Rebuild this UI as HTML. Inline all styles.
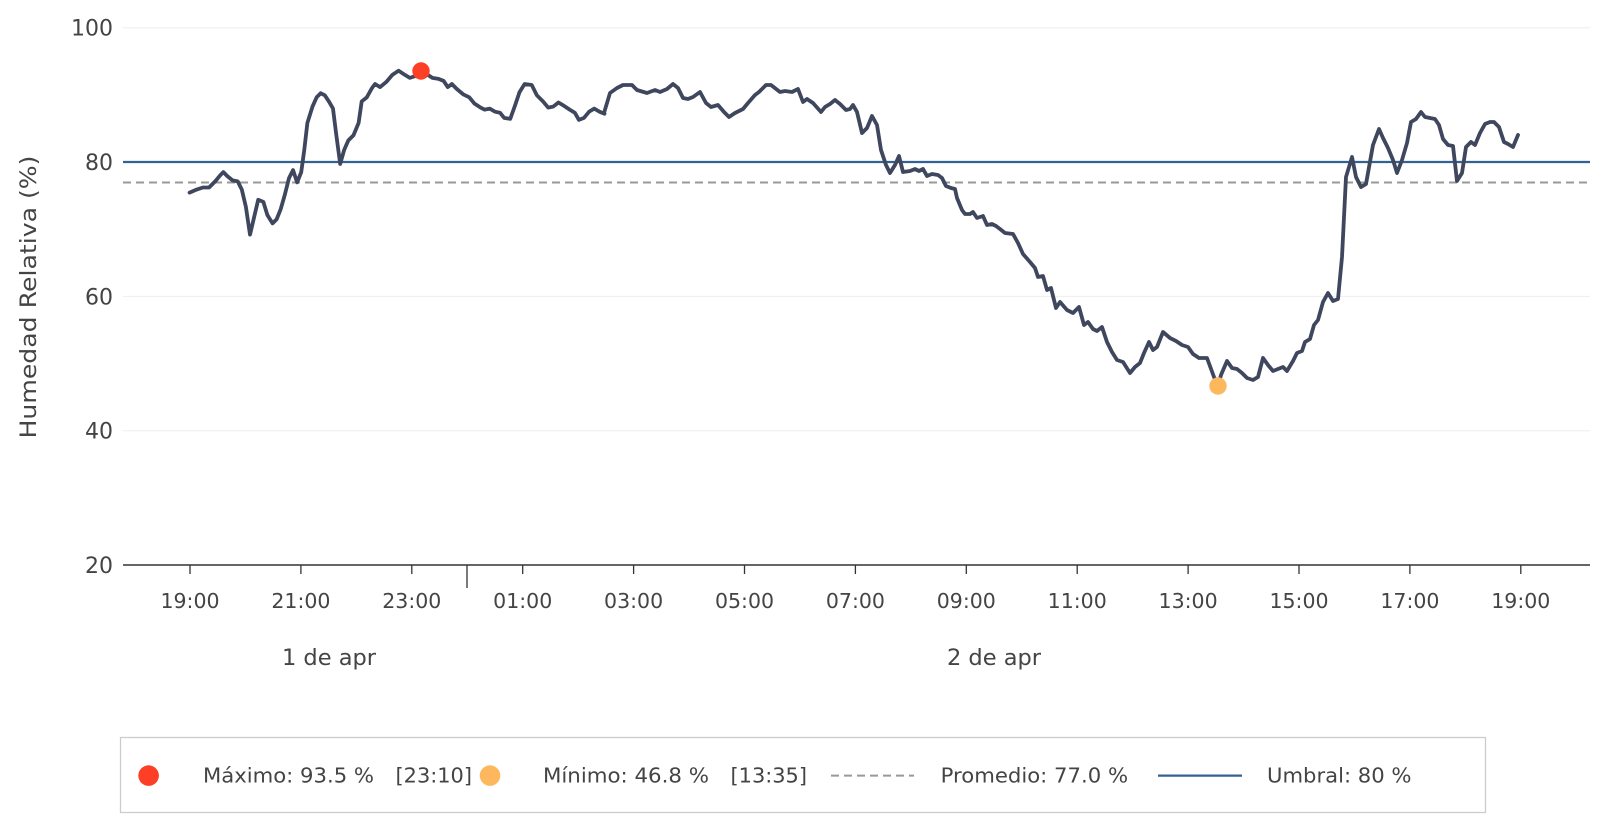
<!DOCTYPE html>
<html><head><meta charset="utf-8"><style>
body{margin:0;background:#fff;width:1601px;height:828px;overflow:hidden}
svg text{font-family:"DejaVu Sans","Liberation Sans",sans-serif;fill:#444}
</style></head><body>
<svg width="1601" height="828" viewBox="0 0 1601 828" xmlns="http://www.w3.org/2000/svg">
<g stroke="#eeeeee" stroke-width="1">
<line x1="123" y1="27.7" x2="1590" y2="27.7"/>
<line x1="123" y1="296.4" x2="1590" y2="296.4"/>
<line x1="123" y1="430.7" x2="1590" y2="430.7"/>
</g>
<g font-size="22" text-anchor="end">
<text x="113" y="35.7">100</text>
<text x="113" y="170">80</text>
<text x="113" y="304.4">60</text>
<text x="113" y="438.7">40</text>
<text x="113" y="573">20</text>
</g>
<text transform="translate(36,297) rotate(-90)" font-size="22" text-anchor="middle" textLength="283" lengthAdjust="spacingAndGlyphs">Humedad Relativa (%)</text>
<line x1="123" y1="565" x2="1590" y2="565" stroke="#333" stroke-width="1.4"/>
<g stroke="#333" stroke-width="1.3">
<line x1="190" y1="565" x2="190" y2="574"/><line x1="300.9" y1="565" x2="300.9" y2="574"/>
<line x1="411.8" y1="565" x2="411.8" y2="574"/><line x1="522.7" y1="565" x2="522.7" y2="574"/>
<line x1="633.6" y1="565" x2="633.6" y2="574"/><line x1="744.5" y1="565" x2="744.5" y2="574"/>
<line x1="855.4" y1="565" x2="855.4" y2="574"/><line x1="966.3" y1="565" x2="966.3" y2="574"/>
<line x1="1077.2" y1="565" x2="1077.2" y2="574"/><line x1="1188.1" y1="565" x2="1188.1" y2="574"/>
<line x1="1299" y1="565" x2="1299" y2="574"/><line x1="1409.9" y1="565" x2="1409.9" y2="574"/>
<line x1="1520.8" y1="565" x2="1520.8" y2="574"/>
<line x1="467" y1="565" x2="467" y2="588"/>
</g>
<g font-size="20.5" text-anchor="middle">
<text x="190" y="608">19:00</text><text x="300.9" y="608">21:00</text><text x="411.8" y="608">23:00</text>
<text x="522.7" y="608">01:00</text><text x="633.6" y="608">03:00</text><text x="744.5" y="608">05:00</text>
<text x="855.4" y="608">07:00</text><text x="966.3" y="608">09:00</text><text x="1077.2" y="608">11:00</text>
<text x="1188.1" y="608">13:00</text><text x="1299" y="608">15:00</text><text x="1409.9" y="608">17:00</text>
<text x="1520.8" y="608">19:00</text>
<text x="329" y="665" font-size="22.5">1 de apr</text>
<text x="994" y="665" font-size="22.5">2 de apr</text>
</g>
<line x1="123" y1="182.5" x2="1590" y2="182.5" stroke="#999" stroke-width="2" stroke-dasharray="8,5"/>
<line x1="123" y1="162" x2="1590" y2="162" stroke="#336195" stroke-width="2.3"/>
<g fill="none" stroke="#3f475e" stroke-width="3.8" stroke-linejoin="round" stroke-linecap="round">
<polyline vector-effect="non-scaling-stroke" transform="scale(1.0246)" points="185,188 192,185 198,183 204,183 210,177 215,171 218,168 222,172 227,176 232,177 236,185 240,202 244,229 248,212 252,195 257,197 261,210 266,218 270,214 274,204 278,190 282,174 286,166 290,178 294,168 297,146 300,120 305,104 309,95 313,91 317,93 321,99 325,106 328,130 332,160 336,146 340,137 345,132 350,120 353,99 358,95 363,86 366,82 371,85 377,80 383,73 389,69 395,73 400,76 406,74 411,70 416,72 422,76 428,77 433,79 437,85 441,82 446,87 452,92 458,95 463,101 469,105 473,107 478,106 483,109 488,110 492,115 498,116 503,102 507,90 512,82 519,83 524,93 530,99 535,105 540,104 545,100 550,103 556,107 561,110 565,117 570,115 575,109 580,106 585,109 590,111"/>
<polyline points="604,113 610,93 617,88 623,85 632,85 637,90 647,93 655,90 660,92 667,89 673,84 678,88 683,98 688,99 693,97 700,92 706,103 711,107 718,105 724,112 729,117 735,113 743,109 748,103 755,95 759,92 766,85 771,85 780,92 785,91 792,92 798,89 803,102 807,99 813,103 821,112 825,107 830,104 835,100 840,104 846,110 850,109 853,105 857,112 862,133 867,128 872,116 877,125 881,150 886,165 890,173 895,165 899,156 903,172 910,171 915,169 919,171 923,169 927,176 932,174 938,175 942,178 946,186 951,188 955,189 957,198 962,210 965,214 970,214 973,212 977,218 983,216 987,225 992,224 996,226 1000,229 1005,233 1013,234 1018,243 1023,254 1030,262 1035,268 1038,277 1043,276 1047,290 1051,288 1056,308 1060,302 1067,310 1073,313 1079,307 1084,325 1088,322 1093,329 1097,331 1102,327 1107,342 1112,352 1117,360 1123,362 1130,373 1135,367 1140,363 1144,353 1149,342 1153,350 1157,347 1163,332 1170,338 1176,341 1182,345 1188,347 1193,354 1199,358 1207,358 1214,377 1218,386 1221,375 1227,361 1232,368 1237,369 1242,373 1247,378 1253,380 1258,377 1263,358 1268,365 1273,371 1278,369 1283,367 1287,371 1293,361 1297,353 1302,351 1305,342 1310,339 1314,325 1318,320 1323,302 1328,293 1333,301 1338,299 1342,257 1346,177 1352,157 1356,177 1361,187 1366,184 1373,145 1379,129 1383,138 1388,148 1393,160 1397,173 1402,160 1407,143 1411,122 1416,119 1421,112 1425,117 1430,118 1435,119 1439,125 1443,139 1448,145 1453,146 1457,181 1462,173 1466,147 1471,142 1475,145 1480,133 1485,124 1490,122 1494,122 1499,127 1504,142 1508,144 1513,147 1518,135"/>
</g>
<circle cx="421" cy="71" r="8.7" fill="#fc3f25"/>
<circle cx="1218" cy="386" r="8.7" fill="#fdb85e"/>
<rect x="120.5" y="737.5" width="1365" height="75" fill="none" stroke="#ccc" stroke-width="1.3"/>
<g font-size="20">
<circle cx="148.6" cy="775.6" r="10.3" fill="#fc3f25"/>
<text x="203" y="782.5" textLength="171" lengthAdjust="spacingAndGlyphs">Máximo: 93.5 %</text>
<text x="395.5" y="782.5" textLength="76.5" lengthAdjust="spacingAndGlyphs">[23:10]</text>
<circle cx="490" cy="775.6" r="10.3" fill="#fdb85e"/>
<text x="543" y="782.5" textLength="166" lengthAdjust="spacingAndGlyphs">Mínimo: 46.8 %</text>
<text x="730.5" y="782.5" textLength="76.5" lengthAdjust="spacingAndGlyphs">[13:35]</text>
<line x1="831" y1="775.6" x2="914" y2="775.6" stroke="#999" stroke-width="2" stroke-dasharray="8,5"/>
<text x="940.6" y="782.5" textLength="187.5" lengthAdjust="spacingAndGlyphs">Promedio: 77.0 %</text>
<line x1="1158" y1="775.6" x2="1242" y2="775.6" stroke="#336195" stroke-width="2.3"/>
<text x="1267" y="782.5" textLength="144.5" lengthAdjust="spacingAndGlyphs">Umbral: 80 %</text>
</g>
</svg>
</body></html>
